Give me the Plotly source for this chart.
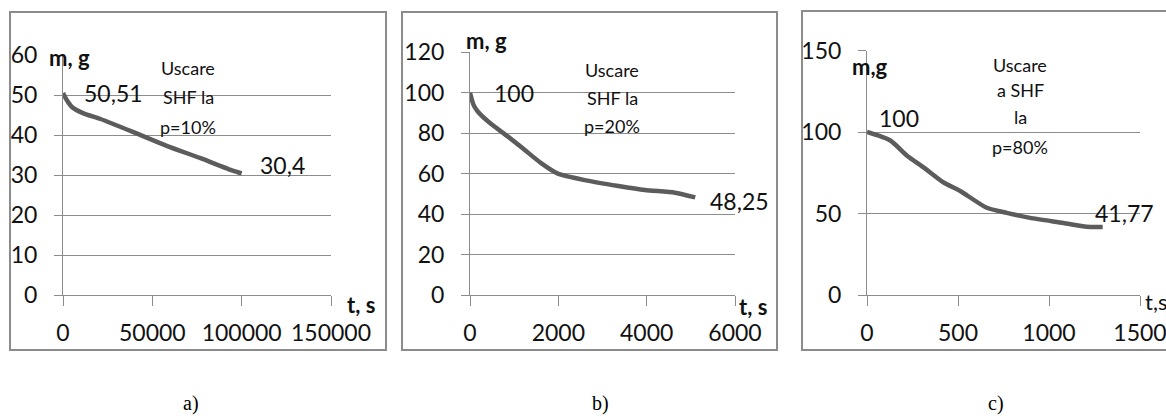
import plotly.graph_objects as go

# ---- data ----
t_a = [0, 2000, 5000, 11500, 21000, 39500, 58000, 77000, 95000, 100000]
m_a = [50.51, 48.8, 47.0, 45.4, 44.0, 40.7, 37.3, 34.2, 31.1, 30.4]

t_b = [0, 80, 180, 480, 860, 1240, 1610, 1990, 2600, 3360, 3960, 4640, 5100]
m_b = [100, 94, 90.6, 84.5, 78.3, 71.7, 65.2, 60.0, 56.8, 53.9, 51.9, 50.6, 48.25]

t_c = [0, 128, 220, 311, 421, 512, 658, 768, 896, 1079, 1207, 1295]
m_c = [100, 94.8, 85.5, 78.3, 69.0, 63.8, 53.5, 50.4, 47.3, 44.2, 41.9, 41.77]

xticks_a = [0, 50000, 100000, 150000]
xticks_b = [0, 2000, 4000, 6000]
xticks_c = [0, 500, 1000, 1500]
yticks_a = [0, 10, 20, 30, 40, 50, 60]
yticks_b = [0, 20, 40, 60, 80, 100, 120]
yticks_c = [0, 50, 100, 150]

label_start = ["50,51", "100", "100"]
label_end = ["30,4", "48,25", "41,77"]
notes_a = ["Uscare", "SHF la", "p=10%"]
notes_b = ["Uscare", "SHF la", "p=20%"]
notes_c = ["Uscare", "a SHF", "la", "p=80%"]
panel_letters = ["a)", "b)", "c)"]

W, H = 1166, 416
SANS = "Lato"
GRAY = "#8c8c8c"
LINE = "#5c5c5c"

def px(v):
    return v / W

def py(v):
    return 1 - v / H

fig = go.Figure()
panels = [
    (t_a, m_a, xticks_a, yticks_a, (63, 331), 55),
    (t_b, m_b, xticks_b, yticks_b, (470, 735), 52.3),
    (t_c, m_c, xticks_c, yticks_c, (867, 1140), 50.5),
]
for i, (t, m, xt, yt, (xl, xr), ytop) in enumerate(panels):
    n = "" if i == 0 else str(i + 1)
    fig.add_trace(go.Scatter(x=t, y=m, mode="lines", xaxis="x" + n, yaxis="y" + n,
                             line=dict(color=LINE, width=4.5, shape="spline", smoothing=0.6),
                             showlegend=False, hoverinfo="skip"))
    fig.layout["xaxis" + n] = dict(
        domain=[px(xl), px(xr)], range=[xt[0], xt[-1]], anchor="y" + n, automargin=False,
        tickvals=xt, ticktext=[str(v) for v in xt], showgrid=False, zeroline=False,
        showline=True, linecolor=GRAY, linewidth=1, ticks="outside", ticklen=10,
        tickcolor=GRAY, tickwidth=1, ticklabelstandoff=7, ticklabeloverflow="allow",
        tickfont=dict(family=SANS, size=23, color="#111"))
    fig.layout["yaxis" + n] = dict(
        domain=[py(295), py(ytop)], range=[yt[0], yt[-1]], anchor="x" + n, automargin=False,
        tickvals=yt, ticktext=[str(v) for v in yt], showgrid=True, gridcolor=GRAY,
        gridwidth=1, zeroline=False, showline=True, linecolor=GRAY, linewidth=1,
        ticks="outside", ticklen=8, tickcolor=GRAY, tickwidth=1, ticklabelstandoff=12,
        ticklabeloverflow="allow",
        tickfont=dict(family=SANS, size=23, color="#111"))

# data labels at first and last points
shifts = [((19, 0), (16, 8)), ((22, 0), (13, -4)), ((10, 14), (-10, 14))]
for i, (t, m, *_rest) in enumerate(panels):
    n = "" if i == 0 else str(i + 1)
    (sx0, sy0), (sx1, sy1) = shifts[i]
    fig.add_annotation(x=t[0], y=m[0], xref="x" + n, yref="y" + n, text=label_start[i],
                       showarrow=False, xanchor="left", yanchor="middle", xshift=sx0, yshift=sy0,
                       font=dict(family=SANS, size=23, color="#111"))
    fig.add_annotation(x=t[-1], y=m[-1], xref="x" + n, yref="y" + n, text=label_end[i],
                       showarrow=False, xanchor="left", yanchor="middle", xshift=sx1, yshift=sy1,
                       font=dict(family=SANS, size=23, color="#111"))

# in-plot notes
for lines, cx, ys in [(notes_a, 188, [68, 97, 127]), (notes_b, 612, [70, 98, 126]),
                      (notes_c, 1020, [65, 90, 117, 147])]:
    for txt, yy in zip(lines, ys):
        fig.add_annotation(x=px(cx), y=py(yy), xref="paper", yref="paper", text=txt,
                           showarrow=False, xanchor="center", yanchor="middle",
                           font=dict(family=SANS, size=18, color="#111"))

# axis titles
for txt, cx, cy in [("m, g", 69, 57), ("m, g", 486, 40), ("m,g", 870, 66),
                    ("t, s", 361, 304), ("t, s", 753, 306)]:
    fig.add_annotation(x=px(cx), y=py(cy), xref="paper", yref="paper",
                       text="<b>%s</b>" % txt, showarrow=False,
                       xanchor="center", yanchor="middle",
                       font=dict(family=SANS, size=22, color="#111"))
fig.add_annotation(x=px(1143), y=py(301), xref="paper", yref="paper", text="t,s",
                   showarrow=False, xanchor="left", yanchor="middle",
                   font=dict(family=SANS, size=22, color="#111"))

# panel boxes
for x0, x1, y0 in [(10, 386, 12), (402, 777, 12), (802, 1175, 11)]:
    fig.add_shape(type="rect", xref="paper", yref="paper", x0=px(x0), x1=px(x1),
                  y0=py(350), y1=py(y0), line=dict(color=GRAY, width=2))

for txt, cx in zip(panel_letters, [191, 600, 996]):
    fig.add_annotation(x=px(cx), y=py(403), xref="paper", yref="paper", text=txt,
                       showarrow=False, xanchor="center", yanchor="middle",
                       font=dict(family="Liberation Serif", size=20, color="#000"))

fig.update_layout(width=W, height=H, margin=dict(l=0, r=0, t=0, b=0, autoexpand=False),
                  paper_bgcolor="white", plot_bgcolor="white", showlegend=False)
fig.write_html("out.html", config={"displayModeBar": False},
               post_script="document.body.style.margin='0';document.body.style.overflow='hidden';")
